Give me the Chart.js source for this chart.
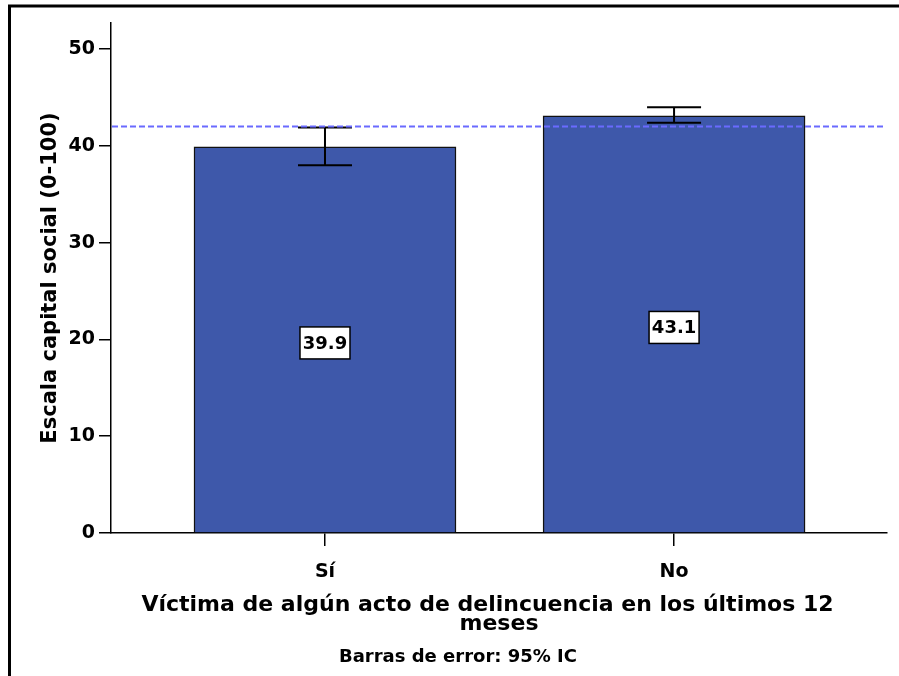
<!DOCTYPE html>
<html>
<head>
<meta charset="utf-8">
<script src="https://cdn.jsdelivr.net/npm/chart.js@4.4.1/dist/chart.umd.min.js"></script>
<style>
  html, body { margin: 0; padding: 0; background: #fff; }
  #wrap { width: 899px; height: 676px; }
</style>
</head>
<body>
<div id="wrap"><canvas id="chart" width="899" height="676"></canvas></div>
<script>
// data
const categories = ['Sí', 'No'];
const catPos = [1, 2];
const means = [39.9, 43.1];
const ciLower = [38.0, 42.4];
const ciUpper = [41.9, 44.0];
const refLine = 42.0;
const yTicks = [0, 10, 20, 30, 40, 50];

const FONT = "'DejaVu Sans', sans-serif";

// extra drawing: reference line, error bars, value boxes, frame, footnote
const extras = {
  id: 'extras',
  afterDatasetsDraw(chart) {
    const ctx = chart.ctx;
    const x = chart.scales.x;
    const y = chart.scales.y;
    ctx.save();

    // error bars
    ctx.strokeStyle = '#000';
    ctx.lineWidth = 2;
    catPos.forEach((p, i) => {
      const cx = x.getPixelForValue(p);
      const top = y.getPixelForValue(ciUpper[i]);
      const bot = y.getPixelForValue(ciLower[i]);
      ctx.beginPath();
      ctx.moveTo(cx, top); ctx.lineTo(cx, bot);
      ctx.moveTo(cx - 27, top); ctx.lineTo(cx + 27, top);
      ctx.moveTo(cx - 27, bot); ctx.lineTo(cx + 27, bot);
      ctx.stroke();
    });

    // reference line (dashed)
    const ry = y.getPixelForValue(refLine);
    ctx.strokeStyle = '#6a6aff';
    ctx.lineWidth = 2;
    ctx.setLineDash([6, 3]);
    ctx.beginPath();
    ctx.moveTo(chart.chartArea.left + 1, ry);
    ctx.lineTo(chart.chartArea.right - 1, ry);
    ctx.stroke();
    ctx.setLineDash([]);

    // value boxes
    ctx.font = 'bold 18px ' + FONT;
    ctx.textAlign = 'center';
    ctx.textBaseline = 'middle';
    catPos.forEach((p, i) => {
      const cx = x.getPixelForValue(p);
      const cy = y.getPixelForValue(means[i] / 2) + 3;
      ctx.fillStyle = '#fff';
      ctx.fillRect(cx - 25, cy - 16, 50, 32);
      ctx.strokeStyle = '#000';
      ctx.lineWidth = 1.5;
      ctx.strokeRect(cx - 25, cy - 16, 50, 32);
      ctx.fillStyle = '#000';
      ctx.fillText(means[i].toFixed(1), cx, cy + 1);
    });

    // footnote
    ctx.font = 'bold 18px ' + FONT;
    ctx.fillText('Barras de error: 95% IC', 458, 657);

    // outer frame
    ctx.strokeStyle = '#000';
    ctx.lineWidth = 3;
    ctx.beginPath();
    ctx.moveTo(9.5, 676);
    ctx.lineTo(9.5, 6);
    ctx.lineTo(899, 6);
    ctx.stroke();

    ctx.restore();
  }
};

new Chart(document.getElementById('chart'), {
  type: 'bar',
  data: {
    datasets: [{
      data: means.map((v, i) => ({ x: catPos[i], y: v })),
      backgroundColor: '#3e58aa',
      borderColor: '#111',
      borderWidth: 1.5,
      borderSkipped: 'bottom',
      barThickness: 262
    }]
  },
  options: {
    responsive: false,
    animation: false,
    devicePixelRatio: 1,
    layout: { padding: { top: 23, right: 12, left: 0, bottom: 0 } },
    plugins: {
      legend: { display: false },
      tooltip: { enabled: false }
    },
    scales: {
      x: {
        type: 'linear',
        min: 0.387,
        max: 2.61,
        offset: false,
        afterBuildTicks: (s) => { s.ticks = catPos.map(v => ({ value: v })); },
        afterFit: (s) => { s.height = 143; },
        grid: { display: true, offset: false, drawOnChartArea: false, drawTicks: true, tickLength: 13, color: '#000', lineWidth: 1.5 },
        border: { display: true, color: '#000', width: 1.5 },
        ticks: {
          color: '#000',
          padding: 15,
          maxRotation: 0,
          font: { family: FONT, size: 19, weight: 'bold' },
          callback: (v) => categories[catPos.indexOf(v)] ?? ''
        },
        title: {
          display: true,
          text: ['Víctima de algún acto de delincuencia en los últimos 12   ', 'meses'],
          color: '#000',
          font: { family: FONT, size: 22, weight: 'bold', lineHeight: '19px' },
          padding: { top: 0, bottom: 42 }
        }
      },
      y: {
        min: 0,
        max: 52.7,
        afterBuildTicks: (s) => { s.ticks = yTicks.map(v => ({ value: v })); },
        afterFit: (s) => { s.width = 111; },
        grid: { display: true, drawOnChartArea: false, drawTicks: true, tickLength: 12, color: '#000', lineWidth: 1.5 },
        border: { display: true, color: '#000', width: 1.5 },
        ticks: {
          color: '#000',
          padding: 4,
          font: { family: FONT, size: 19, weight: 'bold' }
        },
        title: {
          display: true,
          text: 'Escala capital social (0-100)',
          color: '#000',
          font: { family: FONT, size: 21, weight: 'bold' },
          padding: { top: 38, bottom: 0 }
        }
      }
    }
  },
  plugins: [extras]
});
</script>
</body>
</html>
